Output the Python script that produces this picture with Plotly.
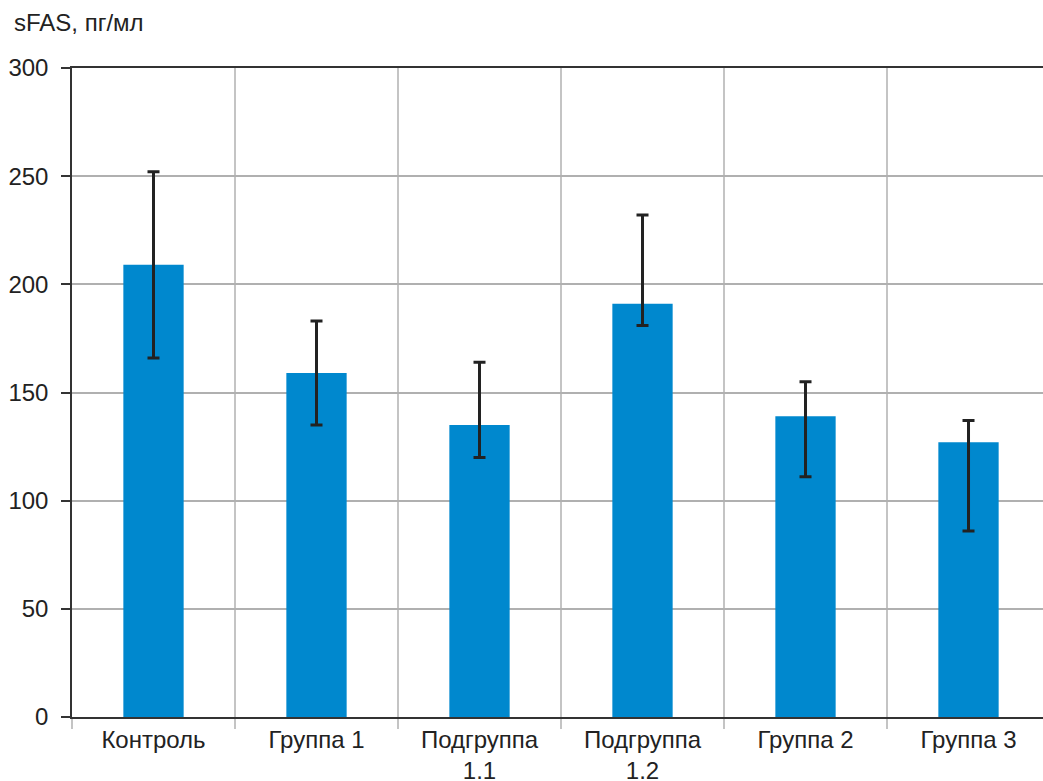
import plotly.graph_objects as go

categories = ["Контроль", "Группа 1", "Подгруппа<br>1.1", "Подгруппа<br>1.2", "Группа 2", "Группа 3"]
means = [209, 159, 135, 191, 139, 127]
upper = [252, 183, 164, 232, 155, 137]
lower = [166, 135, 120, 181, 111, 86]

err_plus = [u - m for u, m in zip(upper, means)]
err_minus = [m - l for m, l in zip(means, lower)]

FONT = "Liberation Sans, Arial, sans-serif"
FS = 24

fig = go.Figure(
    go.Bar(
        x=categories,
        y=means,
        width=0.37,
        marker=dict(color="#0088CE", line=dict(width=0)),
        error_y=dict(
            type="data",
            symmetric=False,
            array=err_plus,
            arrayminus=err_minus,
            color="#222222",
            thickness=3,
            width=6,
        ),
    )
)

fig.add_annotation(
    text="sFAS, пг/мл",
    xref="paper",
    yref="paper",
    x=-60 / 971,
    y=1 + 46 / 649,
    xanchor="left",
    yanchor="middle",
    showarrow=False,
    font=dict(family=FONT, size=FS, color="#222222"),
)

fig.update_layout(
    width=1043,
    height=781,
    margin=dict(l=72, r=0, t=68, b=64, autoexpand=False),
    paper_bgcolor="white",
    plot_bgcolor="white",
    showlegend=False,
    font=dict(family=FONT, size=FS, color="#222222"),
    xaxis=dict(
        type="category",
        range=[-0.5, 5.457],
        tickson="boundaries",
        showgrid=True,
        gridcolor="#c4c4c4",
        gridwidth=1.5,
        ticks="outside",
        ticklen=10,
        tickcolor="#c4c4c4",
        tickwidth=1.5,
        showline=True,
        linecolor="#333333",
        linewidth=1.5,
        mirror=True,
        tickfont=dict(family=FONT, size=FS, color="#222222"),
        zeroline=False,
    ),
    yaxis=dict(
        range=[0, 300],
        tickvals=[0, 50, 100, 150, 200, 250, 300],
        showgrid=True,
        gridcolor="#b0b0b0",
        gridwidth=1.5,
        ticks="outside",
        ticklen=9,
        tickcolor="#333333",
        tickwidth=1.5,
        ticklabelstandoff=8,
        showline=True,
        linecolor="#333333",
        linewidth=1.5,
        zeroline=False,
        tickfont=dict(family=FONT, size=FS, color="#222222"),
    ),
)

fig.write_html(
    "out.html",
    config={"displayModeBar": False},
    post_script="document.body.style.margin='0';document.body.style.overflow='hidden';",
)
